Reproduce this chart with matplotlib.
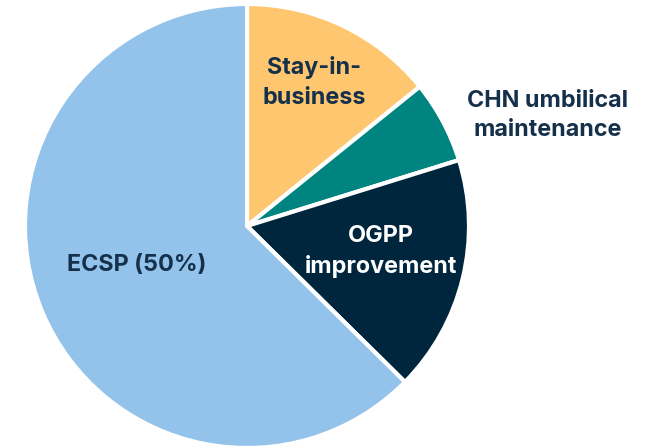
import matplotlib
matplotlib.use("Agg")
import matplotlib.pyplot as plt

labels = ["Stay-in-\nbusiness", "CHN umbilical\nmaintenance", "OGPP\nimprovement", "ECSP (50%)"]
values = [14.2, 6.0, 17.2, 62.6]
colors = ["#FFC670", "#00847F", "#00263E", "#93C2EA"]
text_colors = ["#15304A", "#15304A", "#FFFFFF", "#15304A"]
label_pos = [(0.303, 0.647), (1.355, 0.498), (0.602, -0.113), (-0.497, -0.176)]

W, H = 659, 448
fig = plt.figure(figsize=(W / 100, H / 100), dpi=100)
cx, cy, r = 247, 226, 222
ax = fig.add_axes([(cx - r) / W, (H - cy - r) / H, 2 * r / W, 2 * r / H])
ax.pie(values, colors=colors, startangle=90, counterclock=False, radius=1,
       wedgeprops=dict(edgecolor="white", linewidth=3))
ax.set_xlim(-1, 1)
ax.set_ylim(-1, 1)
ax.set_aspect("equal")
ax.axis("off")

for lab, (x, y), tc in zip(labels, label_pos, text_colors):
    ax.text(x, y, lab, ha="center", va="center", color=tc, fontsize=16.8,
            fontweight="bold", family=["Inter", "DejaVu Sans"], linespacing=1.45,
            clip_on=False)

fig.savefig("out.png", dpi=100)
